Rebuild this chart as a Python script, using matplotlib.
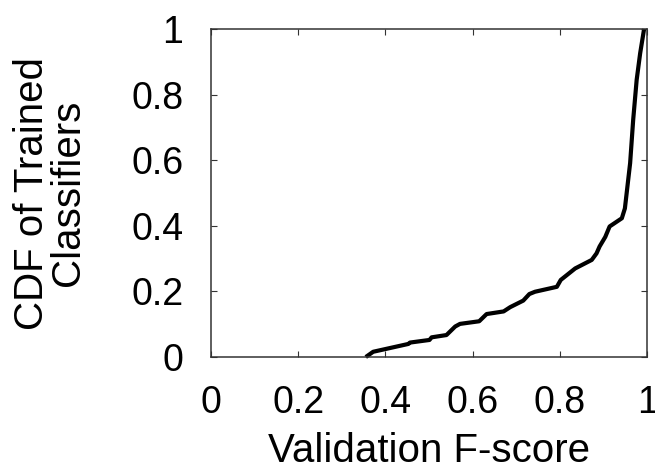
import matplotlib
matplotlib.use("Agg")
import matplotlib.pyplot as plt

# -------- DATA --------
f_score = [0.355, 0.372, 0.453, 0.456, 0.501, 0.506, 0.540, 0.560, 0.571,
           0.615, 0.632, 0.671, 0.686, 0.716, 0.730, 0.743, 0.793, 0.802,
           0.835, 0.873, 0.884, 0.891, 0.904, 0.914, 0.942, 0.949, 0.953,
           0.961, 0.968, 0.976, 0.984, 0.993]
cdf = [0.000, 0.016, 0.040, 0.044, 0.052, 0.060, 0.067, 0.093, 0.101,
       0.109, 0.131, 0.139, 0.152, 0.172, 0.192, 0.199, 0.214, 0.235,
       0.270, 0.296, 0.316, 0.337, 0.366, 0.398, 0.423, 0.453, 0.499,
       0.591, 0.723, 0.845, 0.926, 1.000]

x_ticks = [0, 0.2, 0.4, 0.6, 0.8, 1]
x_tick_labels = ["0", "0.2", "0.4", "0.6", "0.8", "1"]
y_ticks = [0, 0.2, 0.4, 0.6, 0.8, 1]
y_tick_labels = ["0", "0.2", "0.4", "0.6", "0.8", "1"]
# ------------------------------------------------

plt.rcParams["font.family"] = ["Liberation Sans", "DejaVu Sans"]
TICK_FS = 27
LABEL_FS = 29
SPINE = "#333333"

fig = plt.figure(figsize=(6.55, 4.72), dpi=100)
ax = fig.add_axes([0.322, 0.2436, 0.666, 0.695])

ax.plot(f_score, cdf, color="black", lw=3, solid_joinstyle="round",
        solid_capstyle="butt", clip_on=False)

ax.set_xlim(0, 1)
ax.set_ylim(0, 1)
ax.set_xticks(x_ticks)
ax.set_xticklabels(x_tick_labels)
ax.set_yticks(y_ticks)
ax.set_yticklabels(y_tick_labels)

ax.tick_params(axis="both", direction="in", length=4.5, width=0.8,
               color=SPINE, labelsize=TICK_FS, top=True, right=True)
ax.tick_params(axis="x", pad=20)
ax.tick_params(axis="y", pad=20)

for s in ax.spines.values():
    s.set_color(SPINE)
    s.set_linewidth(1.1)

# the "1" on the x axis runs off the right edge, as in the original
ax.set_xlabel("Validation F-score", fontsize=LABEL_FS, va="center")
ax.xaxis.set_label_coords(0.5, -0.285)
ax.set_ylabel("CDF of Trained\nClassifiers", fontsize=LABEL_FS, va="center",
              linespacing=0.92)
ax.yaxis.set_label_coords(-0.369, 0.5)

fig.savefig("out.png", dpi=100)
